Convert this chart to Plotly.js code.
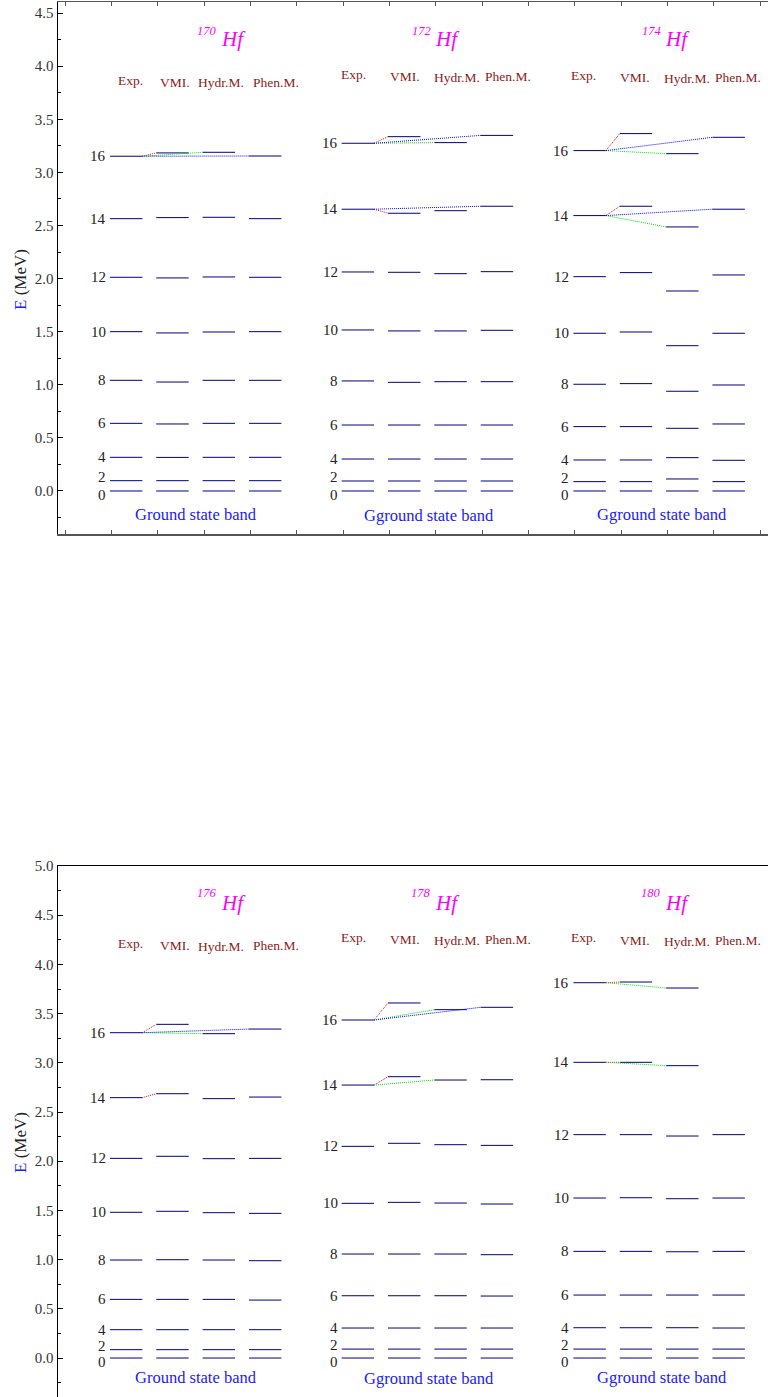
<!DOCTYPE html>
<html><head><meta charset="utf-8">
<script src="https://cdn.plot.ly/plotly-3.0.1.min.js"></script>
<style>html,body{margin:0;padding:0;background:#fff;}#chart{width:768px;height:1397px;}</style>
</head><body><div id="chart"></div>
<script>
// ---------------- data ----------------
const spins = [0, 2, 4, 6, 8, 10, 12, 14, 16];
const models = ['Exp.', 'VMI.', 'Hydr.M.', 'Phen.M.'];
const nuclei = ['170', '172', '174', '176', '178', '180'];
const bandLabels = ['Ground state band', 'Gground state band', 'Gground state band',
                    'Ground state band', 'Gground state band', 'Gground state band'];

// level energies (MeV), order of spins above
const exp170  = [0, 0.097, 0.317, 0.637, 1.042, 1.500, 2.012, 2.564, 3.152];
const vmi170  = [0, 0.097, 0.316, 0.631, 1.026, 1.488, 2.006, 2.574, 3.183];
const hydr170 = [0, 0.097, 0.317, 0.637, 1.042, 1.497, 2.015, 2.577, 3.189];
const phen170 = [0, 0.097, 0.317, 0.637, 1.042, 1.500, 2.012, 2.564, 3.154];

const exp172  = [0, 0.094, 0.301, 0.621, 1.036, 1.516, 2.062, 2.653, 3.274];
const vmi172  = [0, 0.094, 0.301, 0.621, 1.023, 1.507, 2.059, 2.615, 3.336];
const hydr172 = [0, 0.094, 0.301, 0.621, 1.029, 1.507, 2.046, 2.639, 3.280];
const phen172 = [0, 0.094, 0.301, 0.621, 1.029, 1.513, 2.065, 2.681, 3.348];

const exp174  = [0, 0.088, 0.292, 0.606, 1.005, 1.485, 2.018, 2.593, 3.205];
const vmi174  = [0, 0.088, 0.292, 0.606, 1.011, 1.497, 2.056, 2.681, 3.365];
const hydr174 = [0, 0.113, 0.314, 0.590, 0.939, 1.368, 1.883, 2.486, 3.176];
const phen174 = [0, 0.088, 0.289, 0.631, 0.998, 1.485, 2.034, 2.653, 3.330];

const exp176  = [0, 0.085, 0.288, 0.596, 0.996, 1.481, 2.029, 2.646, 3.306];
const vmi176  = [0, 0.085, 0.288, 0.596, 0.999, 1.491, 2.050, 2.686, 3.391];
const hydr176 = [0, 0.085, 0.288, 0.596, 0.996, 1.477, 2.026, 2.636, 3.296];
const phen176 = [0, 0.085, 0.288, 0.589, 0.989, 1.470, 2.029, 2.652, 3.343];

const exp178  = [0, 0.091, 0.305, 0.633, 1.057, 1.572, 2.151, 2.774, 3.435];
const vmi178  = [0, 0.091, 0.305, 0.633, 1.057, 1.582, 2.182, 2.859, 3.608];
const hydr178 = [0, 0.091, 0.305, 0.633, 1.057, 1.575, 2.168, 2.825, 3.540];
const phen178 = [0, 0.091, 0.305, 0.630, 1.050, 1.565, 2.161, 2.828, 3.564];

const exp180  = [0, 0.091, 0.308, 0.640, 1.084, 1.626, 2.270, 3.005, 3.814];
const vmi180  = [0, 0.091, 0.308, 0.640, 1.084, 1.629, 2.270, 3.005, 3.821];
const hydr180 = [0, 0.091, 0.308, 0.640, 1.080, 1.619, 2.256, 2.971, 3.760];
const phen180 = [0, 0.091, 0.305, 0.640, 1.084, 1.626, 2.270, null, null];

// spins joined to the Exp. level by dotted lines, per model (VMI, Hydr, Phen)
const link170 = [[16], [16], [16]];
const link172 = [[14, 16], [16], [14, 16]];
const link174 = [[14, 16], [14, 16], [14, 16]];
const link176 = [[14, 16], [16], [16]];
const link178 = [[14, 16], [14, 16], [16]];
const link180 = [[14, 16], [14, 16], []];

const yTicksTop = [0, 0.5, 1, 1.5, 2, 2.5, 3, 3.5, 4, 4.5];
const yTicksBottom = [0, 0.5, 1, 1.5, 2, 2.5, 3, 3.5, 4, 4.5, 5];

// ---------------- layout helpers ----------------
const W = 768, H = 1397;
const SERIF = 'Liberation Serif, Times New Roman, serif';
const panels = [
  {nuc: nuclei[0], E: [exp170, vmi170, hydr170, phen170], link: link170},
  {nuc: nuclei[1], E: [exp172, vmi172, hydr172, phen172], link: link172},
  {nuc: nuclei[2], E: [exp174, vmi174, hydr174, phen174], link: link174},
  {nuc: nuclei[3], E: [exp176, vmi176, hydr176, phen176], link: link176},
  {nuc: nuclei[4], E: [exp178, vmi178, hydr178, phen178], link: link178},
  {nuc: nuclei[5], E: [exp180, vmi180, hydr180, phen180], link: link180}
];
const SEG = 0.7;
const linkColors = ['#ff0000', '#00e000', '#0000ff'];

// pixel-placed texts (px, py)
const titlePos = [[218.5, 31, 39], [432.5, 31, 39], [662.5, 31, 39],
                  [218.5, 893, 903], [432.7, 893, 903], [662.7, 893, 903]];
const headX = [[130.8, 175, 220.8, 275.7], [353.3, 405, 456.7, 508.3], [583.3, 635, 686.7, 738.3],
               [130.8, 175.3, 221, 275.7], [353.3, 405, 456.7, 508.3], [583.3, 635.3, 686.7, 738.3]];
const headY = [[80.5, 82, 83, 82.5], [74.5, 76.5, 77, 76.5], [75, 77, 78.5, 77],
               [943, 945.5, 946.5, 945.5], [938, 939.5, 940.5, 940], [938, 940.5, 941.5, 940.5]];
const bandPos = [[195.8, 514.5], [428.8, 515.5], [662, 514], [195.8, 1377.7], [428.8, 1378.7], [662, 1377]];

function paper(px, py) { return {x: px / W, y: 1 - py / H, xref: 'paper', yref: 'paper'}; }

const traces = [];
const annotations = [];

panels.forEach((p, i) => {
  const row = i < 3 ? 0 : 1;
  const xa = row === 0 ? 'x' : 'x2';
  const ya = row === 0 ? 'y' : 'y2';
  const base = 1 + 5 * (i % 3);
  // levels
  const lx = [], ly = [];
  p.E.forEach((arr, m) => {
    arr.forEach(e => {
      if (e === null) return;
      lx.push(base + m, base + m + SEG, null);
      ly.push(e, e, null);
    });
  });
  traces.push({x: lx, y: ly, xaxis: xa, yaxis: ya, mode: 'lines', type: 'scatter',
               line: {color: '#000080', width: 1}, hoverinfo: 'skip', showlegend: false});
  // dotted links
  p.link.forEach((sp, k) => {
    const cx = [], cy = [];
    sp.forEach(s => {
      const j = spins.indexOf(s);
      const e0 = p.E[0][j], e1 = p.E[k + 1][j];
      if (e0 === null || e1 === null) return;
      cx.push(base + SEG, base + k + 1, null);
      cy.push(e0, e1, null);
    });
    if (cx.length) traces.push({x: cx, y: cy, xaxis: xa, yaxis: ya, mode: 'lines', type: 'scatter',
      line: {color: linkColors[k], width: 1, dash: '1px,1px'}, hoverinfo: 'skip', showlegend: false});
  });
  // spin labels
  spins.forEach((s, j) => {
    const e = p.E[0][j];
    let ys = 0;
    if (s === 0) ys = -4;
    if (s === 2) ys = 4;
    annotations.push({x: base, y: e, xref: xa, yref: ya, text: String(s), showarrow: false,
      xanchor: 'right', yanchor: 'middle', xshift: -3, yshift: ys, borderpad: 0,
      font: {family: SERIF, size: 15, color: '#222'}});
  });
  // title
  const tp = titlePos[i];
  annotations.push(Object.assign(paper(tp[0], tp[1]), {text: '<i>' + p.nuc + '</i>', showarrow: false,
    xanchor: 'right', yanchor: 'middle', font: {family: SERIF, size: 12.5, color: '#ff00ff'}}));
  annotations.push(Object.assign(paper(tp[0], tp[2]), {text: '<i>Hf</i>', showarrow: false,
    xanchor: 'left', yanchor: 'middle', font: {family: SERIF, size: 21, color: '#ff00ff'}}));
  // model headers
  models.forEach((m, k) => {
    annotations.push(Object.assign(paper(headX[i][k], headY[i][k]), {text: m, showarrow: false,
      xanchor: 'center', yanchor: 'middle', font: {family: SERIF, size: 13.5, color: '#8b1a1a'}}));
  });
  // band label
  const bp = bandPos[i];
  annotations.push(Object.assign(paper(bp[0], bp[1]), {text: bandLabels[i], showarrow: false,
    xanchor: 'center', yanchor: 'middle', font: {family: SERIF, size: 16.5, color: '#1a1aff'}}));
});

// axis titles
[[20, 280], [20, 1143]].forEach(q => {
  annotations.push(Object.assign(paper(q[0], q[1]), {text: '<span style="color:#1a1aff">E</span> (MeV)',
    showarrow: false, textangle: -90, xanchor: 'center', yanchor: 'middle',
    font: {family: SERIF, size: 17, color: '#222'}}));
});

const xdom = [58 / W, 1];
const xr = [-0.12, -0.12 + 710 / 46.35];
const yAxisCommon = {
  showline: true, linecolor: '#000', linewidth: 1.5, ticks: 'inside', ticklen: 5, tickcolor: '#000',
  tickformat: '.1f', tickmode: 'array', showgrid: false, zeroline: false,
  tickfont: {family: SERIF, size: 15, color: '#333'},
  minor: {dtick: 0.25, tick0: 0, ticks: 'inside', ticklen: 3, tickcolor: '#000', showgrid: false}
};

const layout = {
  width: W, height: H, margin: {l: 0, r: 0, t: 0, b: 0},
  paper_bgcolor: '#fff', plot_bgcolor: '#fff', showlegend: false, hovermode: false,
  xaxis: {domain: xdom, range: xr, anchor: 'y', showline: true, mirror: 'ticks', linecolor: '#555',
          linewidth: 1.5, ticks: 'inside', ticklen: 4, tickcolor: '#555', tick0: 0.031, dtick: 1,
          showticklabels: false, showgrid: false, zeroline: false},
  yaxis: Object.assign({}, yAxisCommon, {domain: [(H - 534) / H, (H - 2) / H], range: [-0.405, 4.604],
          anchor: 'x', tickvals: yTicksTop}),
  xaxis2: {domain: xdom, range: xr, anchor: 'y2', side: 'top', showline: true, linecolor: '#000',
           linewidth: 1.5, ticks: '', showticklabels: false, showgrid: false, zeroline: false},
  yaxis2: Object.assign({}, yAxisCommon, {domain: [0, (H - 866) / H], range: [-0.396, 5.0],
          anchor: 'x2', tickvals: yTicksBottom}),
  annotations: annotations
};

Plotly.newPlot('chart', traces, layout, {staticPlot: true, displayModeBar: false});
</script>
</body></html>
